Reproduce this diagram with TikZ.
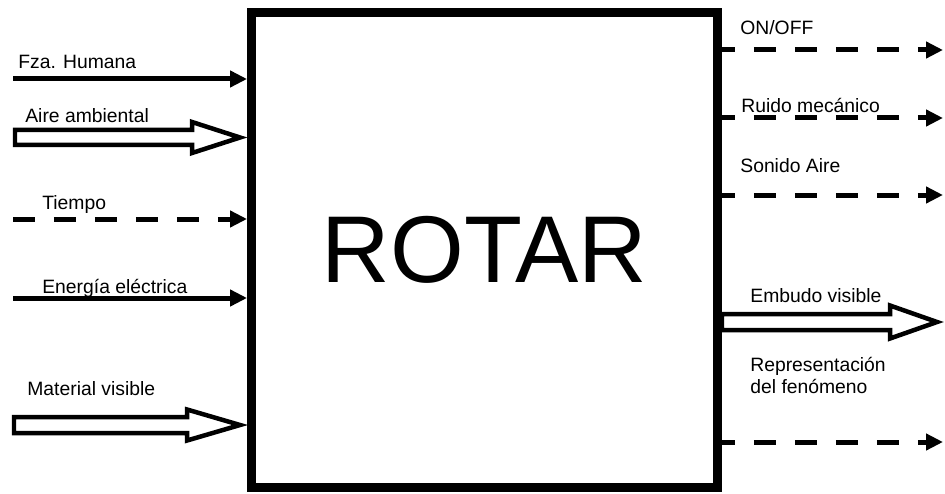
\documentclass[tikz,border=0pt]{standalone}
\usepackage{fontspec}
\setmainfont{Liberation Sans}
\usetikzlibrary{positioning,arrows.meta,calc}

\begin{document}
\begin{tikzpicture}[
  x=0.02cm, y=-0.02cm,
  font=\fontsize{11}{12.5}\selectfont,
  caja/.style={draw, line width=0.18cm, minimum width=9.32cm, minimum height=9.5cm, inner sep=0pt, font=\fontsize{54}{54}\selectfont},
  fl/.style={line width=0.1cm, -{Triangle[length=0.34cm, width=0.32cm]}},
  fld/.style={fl, dash pattern=on 0.44cm off 0.38cm},
  hueca/.style={draw, line width=0.09cm, fill=white, line join=miter},
  lab/.style={anchor=base west, inner sep=0pt, align=left}
]
\useasboundingbox (0,0) rectangle (945,493);
\node[caja] (rotar) at (484.5,250) {ROTAR};

% entradas
\coordinate (fza) at (13,79);
\coordinate (tiempo) at (13,219);
\coordinate (energia) at (13,298);
\draw[fl] (fza) -- (fza -| rotar.west);
\draw[fld] (tiempo) -- (tiempo -| rotar.west);
\draw[fl] (energia) -- (energia -| rotar.west);

\coordinate (aire) at (15,137.5);
\coordinate (aireP) at ($(aire -| rotar.west)+(-7,0)$);
\draw[hueca] ($(aire)+(0,-7.5)$) -- ($(aireP)+(-48,-7.5)$) -- ($(aireP)+(-48,-15.5)$) -- (aireP)
  -- ($(aireP)+(-48,15.5)$) -- ($(aireP)+(-48,7.5)$) -- ($(aire)+(0,7.5)$) -- cycle;

\coordinate (mat) at (14,425);
\coordinate (matP) at ($(mat -| rotar.west)+(-7,0)$);
\draw[hueca] ($(mat)+(0,-8)$) -- ($(matP)+(-53,-8)$) -- ($(matP)+(-53,-15.5)$) -- (matP)
  -- ($(matP)+(-53,15.5)$) -- ($(matP)+(-53,8)$) -- ($(mat)+(0,8)$) -- cycle;

% salidas
\coordinate (onoff) at (943,50);
\coordinate (ruido) at (943,118);
\coordinate (sonido) at (943,195);
\coordinate (repr) at (943,442);
\draw[fld, dash phase=0.18cm] (onoff -| rotar.east) -- (onoff);
\draw[fld, dash phase=0.18cm] (ruido -| rotar.east) -- (ruido);
\draw[fld, dash phase=0.18cm] (sonido -| rotar.east) -- (sonido);
\draw[fld, dash phase=0.18cm] (repr -| rotar.east) -- (repr);

\coordinate (embudo) at (937,322);
\draw[hueca] ($(embudo -| rotar.east)+(0,-8)$) -- ($(embudo)+(-47,-8)$) -- ($(embudo)+(-47,-16.5)$) -- (embudo)
  -- ($(embudo)+(-47,16.5)$) -- ($(embudo)+(-47,8)$) -- ($(embudo -| rotar.east)+(0,8)$) -- cycle;

% etiquetas
\node[lab] (lfza) at (18,69) {Fza. Humana};
\node[lab] (laire) at (25,123) {Aire ambiental};
\node[lab] (ltiempo) at (42,209) {Tiempo};
\node[lab] (lenergia) at (42,293) {Energía eléctrica};
\node[lab] (lmat) at (27,395) {Material visible};
\node[lab] (lonoff) at (740,35) {ON/OFF};
\node[lab] (lruido) at (741,113) {Ruido mecánico};
\node[lab] (lsonido) at (740,173) {Sonido Aire};
\node[lab] (lembudo) at (750,302) {Embudo visible};
\node[lab] (lrepr) at (750,393) {Representación\\del fenómeno};
\end{tikzpicture}
\end{document}
